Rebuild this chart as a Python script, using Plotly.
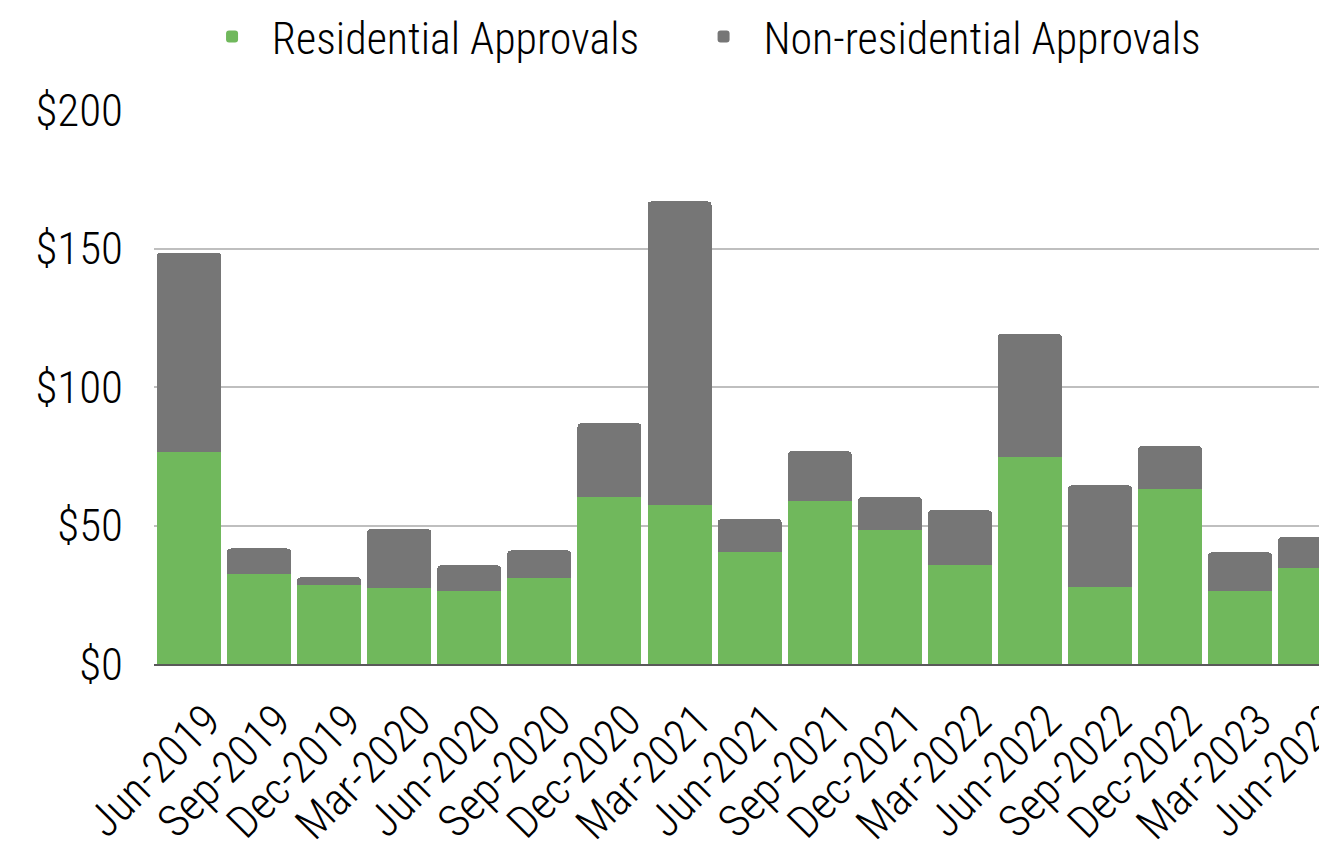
import plotly.graph_objects as go

quarters = ["Jun-2019", "Sep-2019", "Dec-2019", "Mar-2020", "Jun-2020", "Sep-2020",
            "Dec-2020", "Mar-2021", "Jun-2021", "Sep-2021", "Dec-2021", "Mar-2022",
            "Jun-2022", "Sep-2022", "Dec-2022", "Mar-2023", "Jun-2023"]
residential = [76.7, 32.6, 28.6, 27.5, 26.4, 31.1, 60.4, 57.5, 40.5,
               59.0, 48.5, 35.8, 74.9, 27.9, 63.3, 26.4, 34.7]
total = [148.5, 41.7, 31.3, 48.7, 35.6, 41.0, 86.9, 167.0, 52.3,
         76.8, 60.2, 55.5, 119.2, 64.5, 78.6, 40.3, 45.9]
non_residential = [round(t - r, 1) for t, r in zip(total, residential)]
y_ticks = [0, 50, 100, 150, 200]
y_tick_text = ["$0", "$50", "$100", "$150", "$200"]

FONT = "Roboto Condensed, Liberation Sans Narrow, sans-serif"
NB = "\u00a0"

fig = go.Figure()
fig.add_trace(go.Bar(x=quarters, y=residential,
                     name=NB * 2 + "Residential Approvals" + NB * 6,
                     marker_color="#70b85c", marker_line_width=0))
fig.add_trace(go.Bar(x=quarters, y=non_residential,
                     name=NB * 2 + "Non-residential Approvals",
                     marker_color="#767676", marker_line_width=0))

# page body adds 8px offset, so the figure is sized 8px smaller than the window
fig.update_layout(
    barmode="stack",
    bargap=0.086,
    barcornerradius=4,
    width=1319,
    height=836,
    margin=dict(l=146, r=0, t=102, b=180),
    plot_bgcolor="white",
    paper_bgcolor="white",
    font=dict(family=FONT, color="black", size=44, weight=300),
    legend=dict(orientation="h", xref="container", yref="container",
                x=0.1547, xanchor="left", y=0.9653, yanchor="middle",
                font=dict(size=44, weight=300), traceorder="normal"),
    xaxis=dict(range=[-0.5, 16.24], tickangle=-45, tickfont=dict(size=45, weight=300),
               showgrid=False, showline=True, linecolor="#595959", linewidth=2,
               ticks="", automargin=False, ticklabelshift=18, ticklabelstandoff=10),
    yaxis=dict(range=[0, 200], tickvals=y_ticks, ticktext=y_tick_text,
               tickfont=dict(size=45, weight=300), showgrid=True, gridcolor="#bfbfbf",
               gridwidth=2, zeroline=False, ticks="", ticklabelstandoff=30,
               automargin=False),
)

fig.write_html("out.html")
